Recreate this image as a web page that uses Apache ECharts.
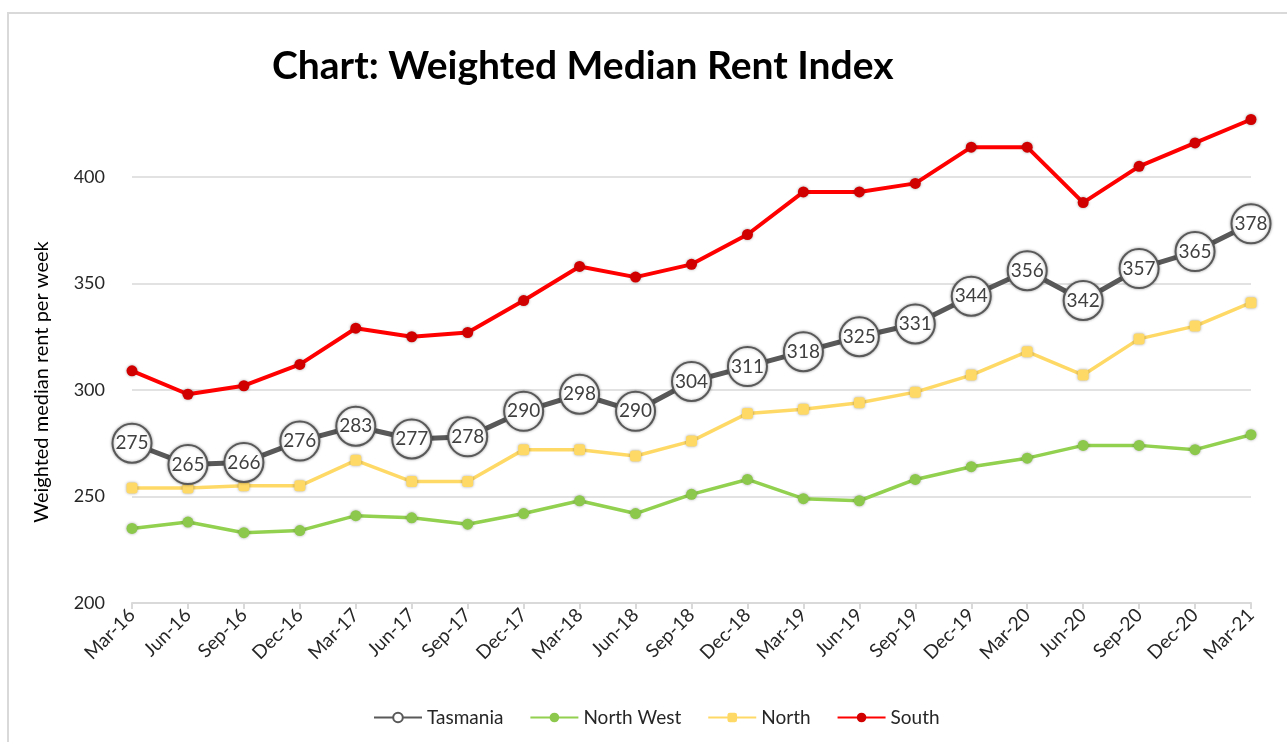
<!DOCTYPE html>
<html>
<head>
<meta charset="utf-8">
<script src="https://cdn.jsdelivr.net/npm/echarts@6/dist/echarts.min.js"></script>
<style>
html,body{margin:0;padding:0;background:#fff;}
#chart{width:1287px;height:742px;}
</style>
</head>
<body>
<div id="chart"></div>
<script>
const categories = ['Mar-16','Jun-16','Sep-16','Dec-16','Mar-17','Jun-17','Sep-17','Dec-17','Mar-18','Jun-18','Sep-18','Dec-18','Mar-19','Jun-19','Sep-19','Dec-19','Mar-20','Jun-20','Sep-20','Dec-20','Mar-21'];
const tasmania = [275,265,266,276,283,277,278,290,298,290,304,311,318,325,331,344,356,342,357,365,378];
const northWest = [235,238,233,234,241,240,237,242,248,242,251,258,249,248,258,264,268,274,274,272,279];
const north = [254,254,255,255,267,257,257,272,272,269,276,289,291,294,299,307,318,307,324,330,341];
const south = [309,298,302,312,329,325,327,342,358,353,359,373,393,393,397,414,414,388,405,416,427];
const yTicks = {min: 200, max: 400, interval: 50};

const FONT = 'Lato';
const chart = echarts.init(document.getElementById('chart'), null, {renderer: 'canvas'});
const shadow = {shadowBlur: 3, shadowColor: 'rgba(0,0,0,0.35)'};
chart.setOption({
  backgroundColor: '#ffffff',
  animation: false,
  graphic: [{
    type: 'rect', silent: true, z: -1,
    shape: {x: 8, y: 13, width: 1300, height: 800},
    style: {fill: 'none', stroke: '#d9d9d9', lineWidth: 2}
  }],
  title: {
    text: 'Chart: Weighted Median Rent Index',
    left: 267, top: 42,
    textStyle: {fontFamily: FONT, fontSize: 39, fontWeight: 'bold', color: '#000000'}
  },
  legend: {
    top: 703, left: 368,
    itemWidth: 48, itemHeight: 12, itemGap: 26,
    textStyle: {fontFamily: FONT, fontSize: 19, color: '#262626'},
    data: ['Tasmania','North West','North','South']
  },
  grid: {left: 132, right: 36, top: 177, bottom: 139},
  xAxis: {
    type: 'category',
    data: categories,
    boundaryGap: false,
    axisLine: {lineStyle: {color: '#d9d9d9', width: 2}},
    axisTick: {show: true, length: 6, lineStyle: {color: '#d9d9d9', width: 2}, alignWithLabel: true},
    axisLabel: {rotate: 45, fontFamily: FONT, fontSize: 19, color: '#262626', margin: 9, interval: 0}
  },
  yAxis: {
    type: 'value',
    min: yTicks.min, max: yTicks.max, interval: yTicks.interval,
    name: 'Weighted median rent per week',
    nameLocation: 'middle',
    nameGap: 80,
    nameTextStyle: {fontFamily: FONT, fontSize: 20, color: '#000000', padding: [0,0,0,16]},
    axisLine: {show: false},
    axisTick: {show: false},
    axisLabel: {fontFamily: FONT, fontSize: 18, color: '#262626', margin: 27},
    splitLine: {lineStyle: {color: '#d9d9d9', width: 1.5}}
  },
  series: [
    {
      name: 'Tasmania', type: 'line', data: tasmania, z: 5, clip: false,
      lineStyle: {color: '#595959', width: 5},
      itemStyle: Object.assign({color: '#ffffff', borderColor: '#595959', borderWidth: 2}, shadow),
      symbol: 'circle', symbolSize: 39, showAllSymbol: true,
      label: {show: true, position: 'inside', fontFamily: FONT, fontSize: 19, color: '#404040'}
    },
    {
      name: 'North West', type: 'line', data: northWest, z: 2, clip: false,
      lineStyle: {color: '#92D050', width: 3.5},
      itemStyle: Object.assign({color: '#8CC84B'}, shadow),
      symbol: 'circle', symbolSize: 11, showAllSymbol: true
    },
    {
      name: 'North', type: 'line', data: north, z: 3, clip: false,
      lineStyle: {color: '#FFD966', width: 3.5},
      itemStyle: Object.assign({color: '#FFD966'}, shadow),
      symbol: 'roundRect', symbolSize: 11, showAllSymbol: true
    },
    {
      name: 'South', type: 'line', data: south, z: 4, clip: false,
      lineStyle: {color: '#FF0000', width: 4},
      itemStyle: Object.assign({color: '#D00000'}, shadow),
      symbol: 'circle', symbolSize: 11, showAllSymbol: true
    }
  ]
});
</script>
</body>
</html>
